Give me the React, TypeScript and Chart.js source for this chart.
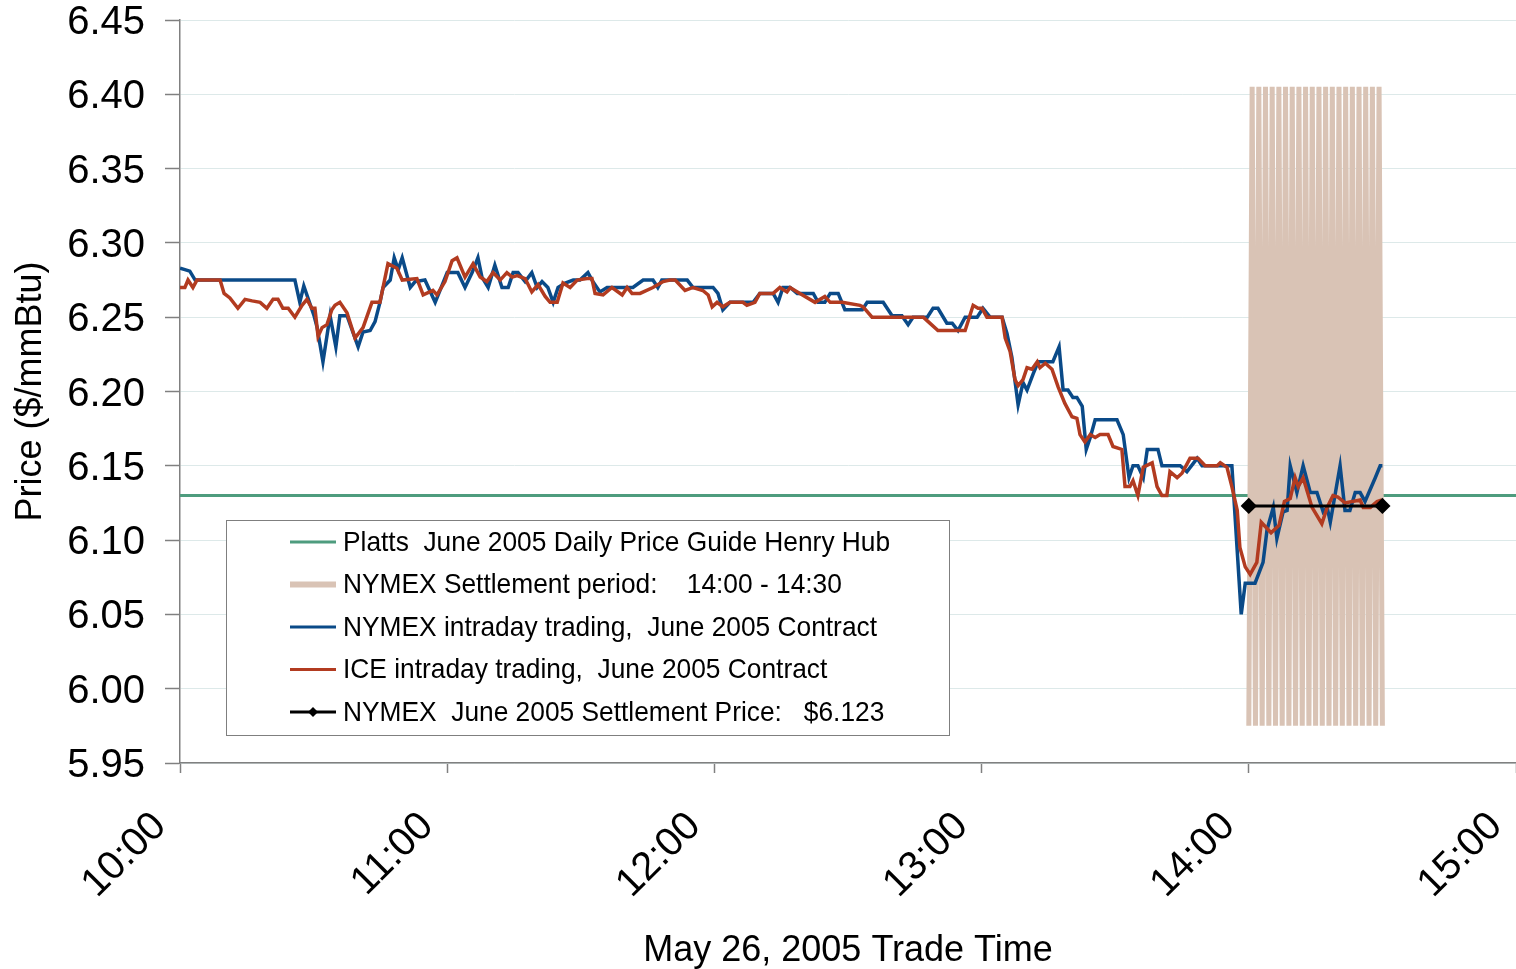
import React, { useEffect, useRef } from 'react';
import { Chart, registerables } from 'chart.js';

Chart.register(...registerables);

// Minutes after 10:00
const xTickLabels = ['10:00', '11:00', '12:00', '13:00', '14:00', '15:00'];
const yTickValues = [5.95, 6.0, 6.05, 6.1, 6.15, 6.2, 6.25, 6.3, 6.35, 6.4, 6.45];

const nymexTimes = [
  0, 1.1, 2.2, 3.4, 25.8, 26.9, 27.8, 30.1, 30.8, 32.1, 33.7, 35.0, 35.9, 37.5, 40.0, 41.1, 42.7, 43.8, 44.9, 45.6,
  47.2, 48.1, 49.0, 49.9, 51.7, 52.8, 55.0, 57.3, 60.0, 62.4, 64.0, 65.6, 66.9, 67.8, 69.2, 70.7, 72.3, 73.7, 74.8,
  75.9, 77.5, 79.0, 80.2, 81.3, 82.6, 83.8, 84.9, 86.5, 88.3, 89.8, 91.6, 92.7, 94.3, 95.9, 101.7, 104.0, 106.2,
  107.3, 108.2, 113.9, 115.2, 119.7, 120.8, 121.9, 123.5, 128.7, 130.2, 133.2, 134.3, 135.4, 137.0, 138.6, 142.2,
  143.3, 144.8, 146.0, 147.8, 149.3, 153.2, 154.3, 157.9, 159.9, 162.1, 163.5, 164.6, 167.8, 169.1, 170.2, 172.2,
  173.4, 174.7, 176.3, 179.0, 180.3, 181.9, 184.6, 185.7, 186.8, 188.2, 189.3, 190.2, 191.6, 192.7, 196.0, 197.4,
  198.3, 199.4, 200.5, 201.4, 202.6, 203.5, 204.4, 205.5, 210.4, 211.8, 213.1, 214.0, 215.1, 216.3, 217.2, 219.6,
  220.5, 224.6, 226.1, 228.4, 229.5, 236.2, 238.3, 239.2, 241.4, 243.2, 244.1, 245.5, 246.3, 247.7, 248.6, 249.3,
  250.8, 252.2, 253.8, 255.3, 256.7, 257.6, 258.3, 260.5, 261.6, 262.7, 263.9, 265.0, 266.1, 268.4, 269.5, 270.0,
];
const nymexPrices = [
  6.283, 6.282, 6.281, 6.275, 6.275, 6.26, 6.271, 6.251, 6.243, 6.22, 6.251, 6.23, 6.251, 6.251, 6.23, 6.24, 6.241,
  6.247, 6.26, 6.27, 6.275, 6.29, 6.282, 6.29, 6.27, 6.274, 6.275, 6.26, 6.28, 6.28, 6.27, 6.28, 6.29, 6.277, 6.27,
  6.285, 6.27, 6.27, 6.28, 6.28, 6.274, 6.28, 6.27, 6.274, 6.27, 6.26, 6.27, 6.273, 6.275, 6.275, 6.28, 6.274,
  6.267, 6.27, 6.27, 6.275, 6.275, 6.27, 6.275, 6.275, 6.27, 6.27, 6.266, 6.255, 6.26, 6.26, 6.266, 6.266, 6.26,
  6.27, 6.27, 6.266, 6.266, 6.26, 6.26, 6.266, 6.266, 6.255, 6.255, 6.26, 6.26, 6.251, 6.251, 6.245, 6.25, 6.25,
  6.256, 6.256, 6.246, 6.246, 6.241, 6.25, 6.25, 6.256, 6.25, 6.25, 6.239, 6.223, 6.191, 6.206, 6.201, 6.212, 6.22,
  6.22, 6.23, 6.201, 6.201, 6.196, 6.196, 6.19, 6.161, 6.169, 6.181, 6.181, 6.171, 6.142, 6.15, 6.15, 6.142, 6.161,
  6.161, 6.15, 6.15, 6.146, 6.155, 6.15, 6.15, 6.05, 6.071, 6.071, 6.085, 6.107, 6.122, 6.101, 6.119, 6.12, 6.15,
  6.132, 6.15, 6.132, 6.132, 6.119, 6.122, 6.112, 6.15, 6.12, 6.12, 6.132, 6.132, 6.126, 6.142, 6.15, 6.15,
];

const iceTimes = [
  0, 1.1, 1.8, 2.9, 3.8, 9.0, 9.9, 11.2, 13.0, 14.6, 16.2, 18.0, 19.5, 20.9, 22.0, 23.1, 24.3, 25.8, 27.4, 28.5,
  29.6, 30.3, 31.0, 31.9, 33.0, 34.1, 34.8, 35.9, 37.5, 39.3, 41.1, 43.1, 44.9, 46.7, 48.7, 49.9, 53.2, 54.6, 56.8,
  57.7, 59.5, 61.1, 62.2, 64.0, 65.8, 67.4, 68.9, 70.3, 71.9, 73.4, 74.6, 75.7, 77.5, 79.0, 80.4, 82.0, 83.1, 84.7,
  86.0, 87.6, 89.2, 91.4, 92.5, 93.2, 95.0, 97.0, 99.3, 100.4, 101.5, 103.3, 106.2, 108.5, 110.0, 111.2, 113.4,
  115.2, 117.4, 118.6, 119.5, 120.6, 121.9, 123.5, 126.4, 127.3, 129.1, 130.2, 133.2, 134.7, 136.3, 137.0, 139.2,
  142.6, 144.8, 146.0, 148.7, 152.7, 153.4, 155.4, 166.9, 168.0, 170.2, 176.3, 178.1, 179.2, 180.1, 181.2, 184.6,
  185.3, 186.4, 187.5, 188.2, 189.3, 190.2, 191.3, 192.5, 193.1, 194.3, 195.8, 197.2, 198.7, 200.3, 201.4, 202.1,
  203.2, 204.4, 205.5, 206.6, 208.4, 209.5, 211.5, 212.2, 213.3, 214.0, 215.1, 216.3, 218.3, 219.4, 220.5, 221.6,
  222.3, 223.9, 225.0, 226.8, 228.6, 230.2, 232.9, 233.6, 235.1, 236.2, 237.4, 238.0, 239.2, 240.3, 241.8, 242.8,
  245.0, 246.8, 248.0, 249.3, 250.4, 251.1, 252.2, 254.2, 256.4, 257.6, 258.9, 260.0, 261.6, 265.0, 265.7, 267.3,
  268.8, 269.9,
];
const icePrices = [
  6.27, 6.27, 6.275, 6.27, 6.275, 6.275, 6.266, 6.263, 6.256, 6.262, 6.261, 6.26, 6.256, 6.262, 6.262, 6.256, 6.256,
  6.25, 6.258, 6.262, 6.256, 6.256, 6.237, 6.243, 6.245, 6.255, 6.258, 6.26, 6.253, 6.236, 6.243, 6.26, 6.26, 6.286,
  6.283, 6.275, 6.276, 6.265, 6.268, 6.265, 6.274, 6.288, 6.29, 6.277, 6.286, 6.277, 6.274, 6.28, 6.275, 6.28,
  6.277, 6.278, 6.276, 6.267, 6.272, 6.264, 6.26, 6.26, 6.273, 6.27, 6.275, 6.276, 6.276, 6.266, 6.265, 6.27,
  6.265, 6.27, 6.266, 6.266, 6.27, 6.274, 6.275, 6.275, 6.268, 6.27, 6.268, 6.265, 6.257, 6.26, 6.257, 6.26, 6.26,
  6.258, 6.26, 6.266, 6.266, 6.27, 6.267, 6.27, 6.266, 6.26, 6.264, 6.26, 6.26, 6.258, 6.257, 6.25, 6.25, 6.247,
  6.241, 6.241, 6.258, 6.256, 6.256, 6.25, 6.25, 6.236, 6.227, 6.208, 6.204, 6.208, 6.216, 6.215, 6.22, 6.216,
  6.219, 6.215, 6.203, 6.192, 6.183, 6.182, 6.171, 6.166, 6.171, 6.169, 6.171, 6.171, 6.163, 6.161, 6.136, 6.136,
  6.14, 6.13, 6.149, 6.152, 6.136, 6.13, 6.13, 6.146, 6.142, 6.145, 6.155, 6.155, 6.15, 6.15, 6.152, 6.149, 6.136,
  6.12, 6.095, 6.082, 6.077, 6.085, 6.112, 6.105, 6.11, 6.126, 6.128, 6.142, 6.136, 6.142, 6.122, 6.111, 6.122,
  6.13, 6.129, 6.125, 6.127, 6.122, 6.122, 6.126, 6.127,
];

const plattsTimes = [0, 300];
const plattsPrices = [6.13, 6.13];

const settlePeriodTimes = [
  240, 240.75, 241.5, 242.25, 243, 243.75, 244.5, 245.25, 246, 246.75, 247.5, 248.25, 249, 249.75, 250.5, 251.25,
  252, 252.75, 253.5, 254.25, 255, 255.75, 256.5, 257.25, 258, 258.75, 259.5, 260.25, 261, 261.75, 262.5, 263.25,
  264, 264.75, 265.5, 266.25, 267, 267.75, 268.5, 269.25, 270,
];
const settlePeriodPrices = [
  5.975, 6.405, 5.975, 6.405, 5.975, 6.405, 5.975, 6.405, 5.975, 6.405, 5.975, 6.405, 5.975, 6.405, 5.975, 6.405,
  5.975, 6.405, 5.975, 6.405, 5.975, 6.405, 5.975, 6.405, 5.975, 6.405, 5.975, 6.405, 5.975, 6.405, 5.975, 6.405,
  5.975, 6.405, 5.975, 6.405, 5.975, 6.405, 5.975, 6.405, 5.975,
];

const settlePriceTimes = [240, 270];
const settlePrices = [6.123, 6.123];

const legendLabels = [
  'Platts  June 2005 Daily Price Guide Henry Hub',
  'NYMEX Settlement period:    14:00 - 14:30',
  'NYMEX intraday trading,  June 2005 Contract',
  'ICE intraday trading,  June 2005 Contract',
  'NYMEX  June 2005 Settlement Price:   $6.123',
];

const GREEN = '#4E9C7E';
const BEIGE = '#D9C3B5';
const BLUE = '#0A4A88';
const RED = '#B23B20';
const BLACK = '#000000';
const FONT = "'Liberation Sans', Arial, sans-serif";

const toPoints = (xs: number[], ys: number[]) => xs.map((x, i) => ({ x, y: ys[i] }));

const legendPlugin = {
  id: 'boxLegend',
  afterDraw(chart: any) {
    const ctx = chart.ctx as CanvasRenderingContext2D;
    const styles = [
      { color: GREEN, width: 3, marker: false },
      { color: BEIGE, width: 6, marker: false },
      { color: BLUE, width: 3, marker: false },
      { color: RED, width: 3, marker: false },
      { color: BLACK, width: 3, marker: true },
    ];
    const bx = 226, by = 520, bw = 724, bh = 216;
    ctx.save();
    ctx.fillStyle = '#ffffff';
    ctx.fillRect(bx, by, bw, bh);
    ctx.strokeStyle = '#7f7f7f';
    ctx.lineWidth = 1;
    ctx.strokeRect(bx + 0.5, by + 0.5, bw - 1, bh - 1);
    legendLabels.forEach((label, i) => {
      const y = by + 22 + i * 42.5;
      const s = styles[i];
      ctx.strokeStyle = s.color;
      ctx.lineWidth = s.width;
      ctx.beginPath();
      ctx.moveTo(290, y);
      ctx.lineTo(336, y);
      ctx.stroke();
      if (s.marker) {
        ctx.fillStyle = s.color;
        ctx.beginPath();
        ctx.moveTo(313, y - 5);
        ctx.lineTo(318, y);
        ctx.lineTo(313, y + 5);
        ctx.lineTo(308, y);
        ctx.closePath();
        ctx.fill();
      }
      ctx.save();
      ctx.translate(343, y);
      ctx.scale(0.94, 1);
      ctx.fillStyle = '#000000';
      ctx.font = `28px ${FONT}`;
      ctx.textBaseline = 'middle';
      ctx.textAlign = 'left';
      ctx.fillText(label, 0, 1);
      ctx.restore();
    });
    ctx.restore();
  },
};

export default function App() {
  const canvasRef = useRef<HTMLCanvasElement | null>(null);

  useEffect(() => {
    document.body.style.margin = '0';
    const canvas = canvasRef.current;
    if (!canvas) return;
    const chart = new Chart(canvas, {
      type: 'line',
      data: {
        datasets: [
          {
            label: legendLabels[4],
            data: toPoints(settlePriceTimes, settlePrices),
            borderColor: BLACK,
            backgroundColor: BLACK,
            borderWidth: 3,
            pointStyle: 'rectRot',
            pointRadius: 6,
            pointBackgroundColor: BLACK,
            pointBorderColor: BLACK,
            clip: false,
            order: 0,
          },
          {
            label: legendLabels[3],
            data: toPoints(iceTimes, icePrices),
            borderColor: RED,
            borderWidth: 3.5,
            pointRadius: 0,
            order: 1,
          },
          {
            label: legendLabels[2],
            data: toPoints(nymexTimes, nymexPrices),
            borderColor: BLUE,
            borderWidth: 3.5,
            pointRadius: 0,
            order: 2,
          },
          {
            label: legendLabels[1],
            data: toPoints(settlePeriodTimes, settlePeriodPrices),
            borderColor: BEIGE,
            borderWidth: 5,
            pointRadius: 0,
            order: 3,
          },
          {
            label: legendLabels[0],
            data: toPoints(plattsTimes, plattsPrices),
            borderColor: GREEN,
            borderWidth: 3,
            pointRadius: 0,
            order: 4,
          },
        ],
      },
      options: {
        responsive: false,
        animation: false,
        devicePixelRatio: 1,
        layout: { autoPadding: false, padding: { top: 20, right: 0, left: 0, bottom: 0 } },
        plugins: {
          legend: { display: false },
          tooltip: { enabled: false },
        },
        scales: {
          x: {
            type: 'linear',
            min: 0,
            max: 300,
            afterBuildTicks: (scale: any) => {
              scale.ticks = xTickLabels.map((_, i) => ({ value: i * 60 }));
            },
            afterFit: (scale: any) => {
              scale.height = 206;
              scale.paddingLeft = 0;
              scale.paddingRight = 0;
            },
            ticks: {
              autoSkip: false,
              maxRotation: 45,
              minRotation: 45,
              padding: 30,
              labelOffset: -20,
              color: '#000000',
              font: { family: FONT, size: 40 },
              callback: (value: any) => xTickLabels[Math.round(Number(value) / 60)],
            },
            grid: {
              drawOnChartArea: false,
              drawTicks: true,
              tickLength: 10,
              tickColor: '#808080',
              tickWidth: 1.5,
            },
            border: { display: true, color: '#808080', width: 1.5 },
            title: {
              display: true,
              text: 'May 26, 2005 Trade Time',
              color: '#000000',
              font: { family: FONT, size: 36 },
              padding: { top: 0, bottom: -4 },
            },
          },
          y: {
            type: 'linear',
            min: 5.95,
            max: 6.45,
            afterBuildTicks: (scale: any) => {
              scale.ticks = yTickValues.map((v) => ({ value: v }));
            },
            afterFit: (scale: any) => {
              scale.width = 180;
              scale.paddingTop = 0;
              scale.paddingBottom = 0;
            },
            ticks: {
              padding: 20,
              labelOffset: 3,
              color: '#000000',
              font: { family: FONT, size: 40 },
              callback: (value: any) => Number(value).toFixed(2),
            },
            grid: {
              color: '#DDE9E9',
              lineWidth: 1,
              drawTicks: true,
              tickLength: 15,
              tickColor: '#808080',
              tickWidth: 1.5,
            },
            border: { display: true, color: '#808080', width: 1.5 },
            title: {
              display: true,
              text: 'Price ($/mmBtu)',
              color: '#000000',
              font: { family: FONT, size: 36 },
              padding: { top: 9, bottom: 0 },
            },
          },
        },
      },
      plugins: [legendPlugin],
    } as any);
    return () => chart.destroy();
  }, []);

  return (
    <div style={{ width: 1516, height: 969 }}>
      <canvas ref={canvasRef} width={1516} height={969} style={{ display: 'block' }} />
    </div>
  );
}
